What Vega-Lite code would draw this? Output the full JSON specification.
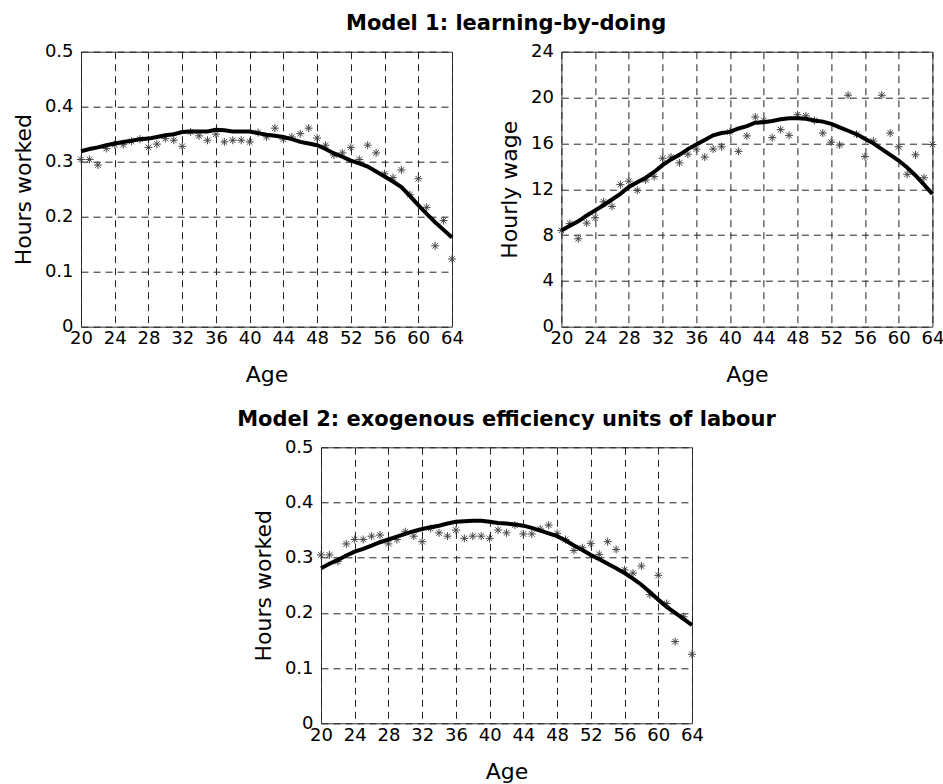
{
  "$schema": "https://vega.github.io/schema/vega-lite/v6.json",
  "padding": {"left": 11, "top": 12.7, "right": 0, "bottom": 5},
  "background": "#ffffff",
  "config": {
    "font": "DejaVu Sans",
    "view": {"stroke": "#333333", "strokeWidth": 1},
    "axis": {
      "labelFont": "DejaVu Sans", "labelFontSize": 18, "labelColor": "#000000",
      "titleFont": "DejaVu Sans", "titleFontSize": 22, "titleFontWeight": "normal", "titleColor": "#000000",
      "grid": true, "gridColor": "#222222", "gridDash": [7, 5], "gridWidth": 1, "gridOpacity": 1,
      "ticks": false, "domain": false, "labelOverlap": false, "labelFlush": false
    },
    "axisX": {"labelPadding": 3, "titlePadding": 17},
    "axisY": {"labelPadding": 8, "titlePadding": 9},
    "title": {"font": "DejaVu Sans", "fontSize": 21, "fontWeight": "bold", "color": "#000000", "anchor": "middle", "baseline": "alphabetic", "offset": 8}
  },
  "datasets": {
    "m1": [
      {"age": 20, "obs": 0.304, "sim": 0.319}, {"age": 21, "obs": 0.304, "sim": 0.323}, {"age": 22, "obs": 0.294, "sim": 0.326},
      {"age": 23, "obs": 0.324, "sim": 0.330}, {"age": 24, "obs": 0.331, "sim": 0.333}, {"age": 25, "obs": 0.331, "sim": 0.336},
      {"age": 26, "obs": 0.337, "sim": 0.338}, {"age": 27, "obs": 0.341, "sim": 0.341}, {"age": 28, "obs": 0.326, "sim": 0.342},
      {"age": 29, "obs": 0.332, "sim": 0.345}, {"age": 30, "obs": 0.342, "sim": 0.348}, {"age": 31, "obs": 0.339, "sim": 0.350},
      {"age": 32, "obs": 0.328, "sim": 0.354}, {"age": 33, "obs": 0.354, "sim": 0.355}, {"age": 34, "obs": 0.347, "sim": 0.355},
      {"age": 35, "obs": 0.339, "sim": 0.355}, {"age": 36, "obs": 0.350, "sim": 0.358}, {"age": 37, "obs": 0.336, "sim": 0.357},
      {"age": 38, "obs": 0.339, "sim": 0.355}, {"age": 39, "obs": 0.339, "sim": 0.355}, {"age": 40, "obs": 0.336, "sim": 0.355},
      {"age": 41, "obs": 0.353, "sim": 0.352}, {"age": 42, "obs": 0.345, "sim": 0.349}, {"age": 43, "obs": 0.361, "sim": 0.347},
      {"age": 44, "obs": 0.341, "sim": 0.345}, {"age": 45, "obs": 0.345, "sim": 0.341}, {"age": 46, "obs": 0.351, "sim": 0.336},
      {"age": 47, "obs": 0.361, "sim": 0.333}, {"age": 48, "obs": 0.343, "sim": 0.330}, {"age": 49, "obs": 0.330, "sim": 0.323},
      {"age": 50, "obs": 0.312, "sim": 0.315}, {"age": 51, "obs": 0.316, "sim": 0.309}, {"age": 52, "obs": 0.326, "sim": 0.302},
      {"age": 53, "obs": 0.304, "sim": 0.297}, {"age": 54, "obs": 0.330, "sim": 0.291}, {"age": 55, "obs": 0.316, "sim": 0.282},
      {"age": 56, "obs": 0.278, "sim": 0.273}, {"age": 57, "obs": 0.271, "sim": 0.264}, {"age": 58, "obs": 0.285, "sim": 0.254},
      {"age": 59, "obs": 0.240, "sim": 0.238}, {"age": 60, "obs": 0.269, "sim": 0.221}, {"age": 61, "obs": 0.217, "sim": 0.205},
      {"age": 62, "obs": 0.147, "sim": 0.190}, {"age": 63, "obs": 0.193, "sim": 0.176}, {"age": 64, "obs": 0.123, "sim": 0.162}
    ],
    "m1w": [
      {"age": 20, "obs": 8.4, "sim": 8.4}, {"age": 21, "obs": 9.0, "sim": 8.8}, {"age": 22, "obs": 7.67, "sim": 9.2},
      {"age": 23, "obs": 9.04, "sim": 9.7}, {"age": 24, "obs": 9.51, "sim": 10.15}, {"age": 25, "obs": 10.9, "sim": 10.6},
      {"age": 26, "obs": 10.5, "sim": 11.1}, {"age": 27, "obs": 12.4, "sim": 11.6}, {"age": 28, "obs": 12.7, "sim": 12.2},
      {"age": 29, "obs": 11.9, "sim": 12.6}, {"age": 30, "obs": 12.8, "sim": 13.0}, {"age": 31, "obs": 13.1, "sim": 13.5},
      {"age": 32, "obs": 14.7, "sim": 14.1}, {"age": 33, "obs": 14.8, "sim": 14.6}, {"age": 34, "obs": 14.3, "sim": 15.0},
      {"age": 35, "obs": 15.05, "sim": 15.5}, {"age": 36, "obs": 15.5, "sim": 15.9}, {"age": 37, "obs": 14.8, "sim": 16.3},
      {"age": 38, "obs": 15.5, "sim": 16.7}, {"age": 39, "obs": 15.7, "sim": 16.9}, {"age": 40, "obs": 17.0, "sim": 17.0},
      {"age": 41, "obs": 15.3, "sim": 17.3}, {"age": 42, "obs": 16.65, "sim": 17.5}, {"age": 43, "obs": 18.3, "sim": 17.8},
      {"age": 44, "obs": 18.0, "sim": 17.85}, {"age": 45, "obs": 16.5, "sim": 17.95}, {"age": 46, "obs": 17.2, "sim": 18.1},
      {"age": 47, "obs": 16.7, "sim": 18.2}, {"age": 48, "obs": 18.5, "sim": 18.2}, {"age": 49, "obs": 18.4, "sim": 18.15},
      {"age": 50, "obs": 18.0, "sim": 18.0}, {"age": 51, "obs": 16.9, "sim": 17.9}, {"age": 52, "obs": 16.1, "sim": 17.7},
      {"age": 53, "obs": 15.85, "sim": 17.4}, {"age": 54, "obs": 20.2, "sim": 17.1}, {"age": 55, "obs": 16.8, "sim": 16.8},
      {"age": 56, "obs": 14.85, "sim": 16.4}, {"age": 57, "obs": 16.2, "sim": 16.0}, {"age": 58, "obs": 20.2, "sim": 15.5},
      {"age": 59, "obs": 16.9, "sim": 15.0}, {"age": 60, "obs": 15.7, "sim": 14.5}, {"age": 61, "obs": 13.3, "sim": 13.9},
      {"age": 62, "obs": 15.0, "sim": 13.2}, {"age": 63, "obs": 13.0, "sim": 12.4}, {"age": 64, "obs": 15.9, "sim": 11.6}
    ],
    "m2": [
      {"age": 20, "obs": 0.305, "sim": 0.281}, {"age": 21, "obs": 0.305, "sim": 0.289}, {"age": 22, "obs": 0.293, "sim": 0.296},
      {"age": 23, "obs": 0.325, "sim": 0.304}, {"age": 24, "obs": 0.333, "sim": 0.311}, {"age": 25, "obs": 0.333, "sim": 0.316},
      {"age": 26, "obs": 0.339, "sim": 0.322}, {"age": 27, "obs": 0.341, "sim": 0.328}, {"age": 28, "obs": 0.325, "sim": 0.333},
      {"age": 29, "obs": 0.333, "sim": 0.338}, {"age": 30, "obs": 0.347, "sim": 0.343}, {"age": 31, "obs": 0.339, "sim": 0.348},
      {"age": 32, "obs": 0.329, "sim": 0.352}, {"age": 33, "obs": 0.353, "sim": 0.355}, {"age": 34, "obs": 0.345, "sim": 0.358},
      {"age": 35, "obs": 0.339, "sim": 0.362}, {"age": 36, "obs": 0.350, "sim": 0.365}, {"age": 37, "obs": 0.335, "sim": 0.366},
      {"age": 38, "obs": 0.339, "sim": 0.367}, {"age": 39, "obs": 0.339, "sim": 0.367}, {"age": 40, "obs": 0.335, "sim": 0.365},
      {"age": 41, "obs": 0.350, "sim": 0.363}, {"age": 42, "obs": 0.345, "sim": 0.362}, {"age": 43, "obs": 0.359, "sim": 0.360},
      {"age": 44, "obs": 0.343, "sim": 0.358}, {"age": 45, "obs": 0.343, "sim": 0.354}, {"age": 46, "obs": 0.352, "sim": 0.349},
      {"age": 47, "obs": 0.359, "sim": 0.344}, {"age": 48, "obs": 0.344, "sim": 0.339}, {"age": 49, "obs": 0.333, "sim": 0.331},
      {"age": 50, "obs": 0.313, "sim": 0.322}, {"age": 51, "obs": 0.318, "sim": 0.314}, {"age": 52, "obs": 0.326, "sim": 0.305},
      {"age": 53, "obs": 0.306, "sim": 0.297}, {"age": 54, "obs": 0.329, "sim": 0.289}, {"age": 55, "obs": 0.315, "sim": 0.281},
      {"age": 56, "obs": 0.278, "sim": 0.272}, {"age": 57, "obs": 0.272, "sim": 0.262}, {"age": 58, "obs": 0.285, "sim": 0.251},
      {"age": 59, "obs": 0.233, "sim": 0.238}, {"age": 60, "obs": 0.268, "sim": 0.224}, {"age": 61, "obs": 0.217, "sim": 0.211},
      {"age": 62, "obs": 0.148, "sim": 0.200}, {"age": 63, "obs": 0.193, "sim": 0.189}, {"age": 64, "obs": 0.125, "sim": 0.178}
    ]
  },
  "spacing": 21.6,
  "vconcat": [
    {
      "title": {"text": "Model 1: learning-by-doing", "frame": "bounds", "dx": 28},
      "spacing": 33.4,
      "hconcat": [
        {
          "width": 371, "height": 275,
          "data": {"name": "m1"},
          "transform": [{"fold": ["obs", "sim"], "as": ["series", "value"]}],
          "encoding": {
            "x": {"field": "age", "type": "quantitative", "title": "Age", "scale": {"domain": [20, 64], "nice": false, "zero": false}, "axis": {"values": [20, 24, 28, 32, 36, 40, 44, 48, 52, 56, 60, 64], "labelOverlap": false, "labelFlush": false}},
            "y": {"field": "value", "type": "quantitative", "title": "Hours worked", "scale": {"domain": [0, 0.5], "nice": false}, "axis": {"values": [0, 0.1, 0.2, 0.3, 0.4, 0.5], "labelOverlap": false, "labelExpr": "datum.value == 0 ? '0' : format(datum.value, '.1f')"}}
          },
          "layer": [
            {
              "transform": [{"filter": "datum.series == 'obs'"}],
              "mark": {"type": "point", "shape": "M-1,0L1,0M0,-1L0,1M-0.7,-0.7L0.7,0.7M-0.7,0.7L0.7,-0.7", "size": 64, "filled": false, "stroke": "#444444", "strokeWidth": 1, "opacity": 1}
            },
            {
              "transform": [{"filter": "datum.series == 'sim'"}],
              "mark": {"type": "line", "color": "#000000", "strokeWidth": 4}
            }
          ]
        },
        {
          "width": 371, "height": 275,
          "data": {"name": "m1w"},
          "transform": [{"fold": ["obs", "sim"], "as": ["series", "value"]}],
          "encoding": {
            "x": {"field": "age", "type": "quantitative", "title": "Age", "scale": {"domain": [20, 64], "nice": false, "zero": false}, "axis": {"values": [20, 24, 28, 32, 36, 40, 44, 48, 52, 56, 60, 64], "labelOverlap": false, "labelFlush": false}},
            "y": {"field": "value", "type": "quantitative", "title": "Hourly wage", "scale": {"domain": [0, 24], "nice": false}, "axis": {"values": [0, 4, 8, 12, 16, 20, 24], "labelOverlap": false}}
          },
          "layer": [
            {
              "transform": [{"filter": "datum.series == 'obs'"}],
              "mark": {"type": "point", "shape": "M-1,0L1,0M0,-1L0,1M-0.7,-0.7L0.7,0.7M-0.7,0.7L0.7,-0.7", "size": 64, "filled": false, "stroke": "#444444", "strokeWidth": 1, "opacity": 1}
            },
            {
              "transform": [{"filter": "datum.series == 'sim'"}],
              "mark": {"type": "line", "color": "#000000", "strokeWidth": 4}
            }
          ]
        }
      ]
    },
    {
      "spacing": 0,
      "hconcat": [
        {
          "width": 155, "height": 276,
          "data": {"values": [{"a": 1}]},
          "mark": {"type": "point", "opacity": 0},
          "view": {"stroke": null}
        },
        {
          "title": {"text": "Model 2: exogenous efficiency units of labour", "frame": "group"},
          "width": 371, "height": 276,
          "data": {"name": "m2"},
          "transform": [{"fold": ["obs", "sim"], "as": ["series", "value"]}],
          "encoding": {
            "x": {"field": "age", "type": "quantitative", "title": "Age", "scale": {"domain": [20, 64], "nice": false, "zero": false}, "axis": {"values": [20, 24, 28, 32, 36, 40, 44, 48, 52, 56, 60, 64], "labelOverlap": false, "labelFlush": false}},
            "y": {"field": "value", "type": "quantitative", "title": "Hours worked", "scale": {"domain": [0, 0.5], "nice": false}, "axis": {"values": [0, 0.1, 0.2, 0.3, 0.4, 0.5], "labelOverlap": false, "labelExpr": "datum.value == 0 ? '0' : format(datum.value, '.1f')"}}
          },
          "layer": [
            {
              "transform": [{"filter": "datum.series == 'obs'"}],
              "mark": {"type": "point", "shape": "M-1,0L1,0M0,-1L0,1M-0.7,-0.7L0.7,0.7M-0.7,0.7L0.7,-0.7", "size": 64, "filled": false, "stroke": "#444444", "strokeWidth": 1, "opacity": 1}
            },
            {
              "transform": [{"filter": "datum.series == 'sim'"}],
              "mark": {"type": "line", "color": "#000000", "strokeWidth": 4}
            }
          ]
        }
      ]
    }
  ]
}
